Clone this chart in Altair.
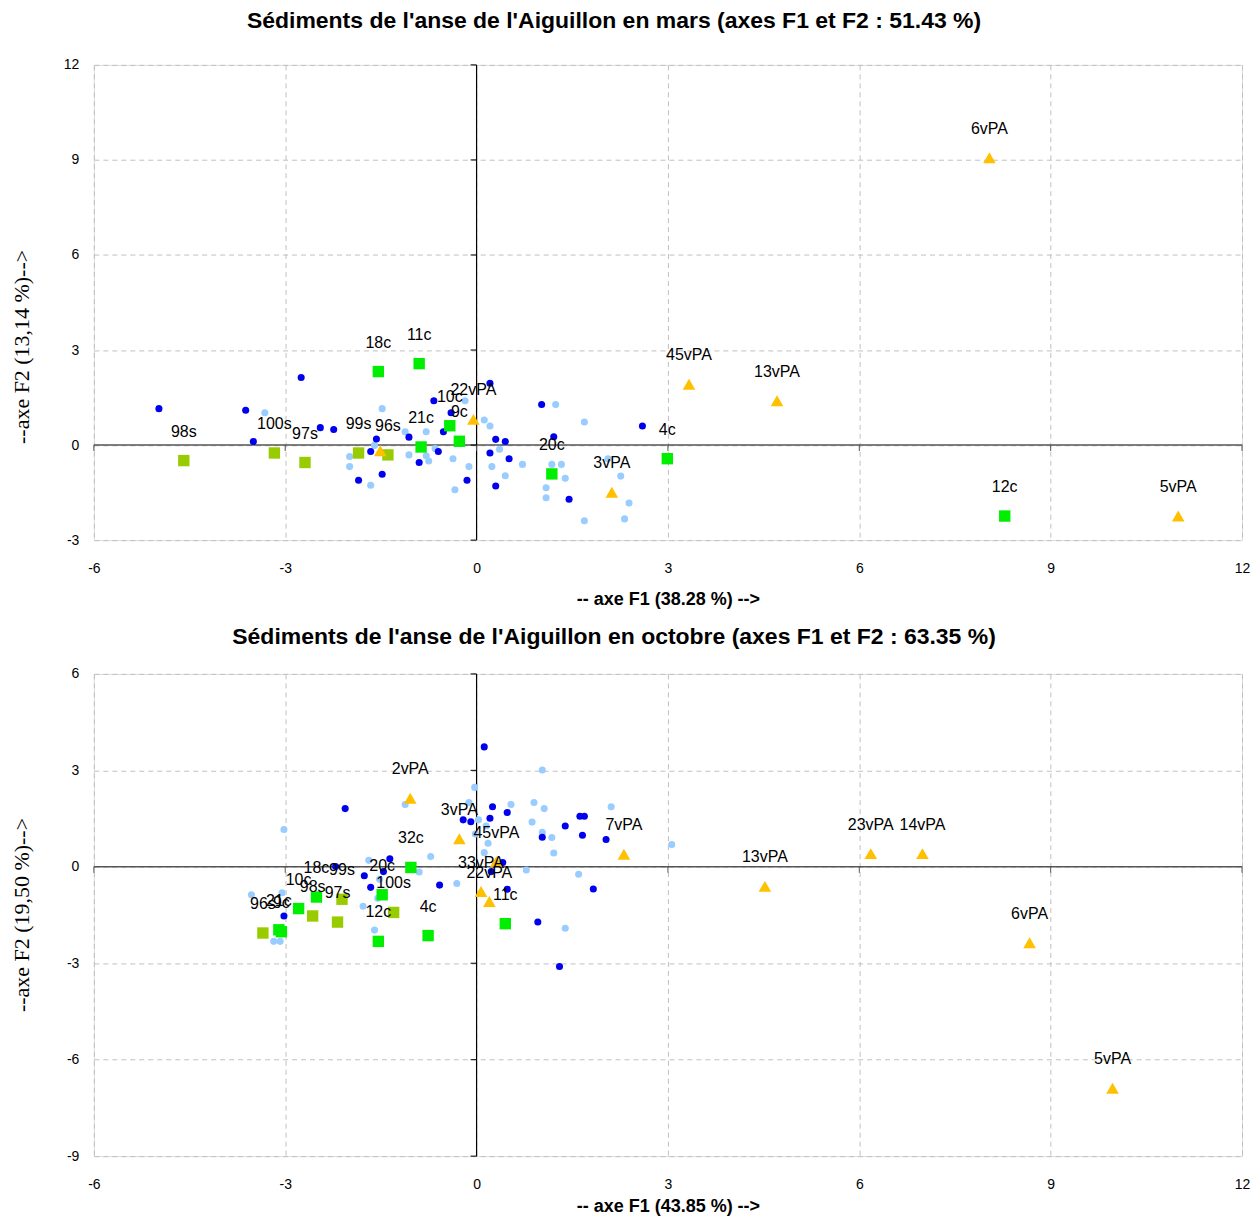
import altair as alt
import pandas as pd

# ---------------- March (top) ----------------
mars_dark_x = [-4.98, -3.62, -2.75, -3.50, -2.45, -2.24, -1.57, -1.66, -1.48, -1.85, -1.06, -0.67, -0.90, -0.60,
               -0.52, -0.40, -0.15, 0.21, 0.30, 0.45, 0.21, 0.51, 0.30, 1.02, 1.21, 1.45, 2.60]
mars_dark_y = [1.15, 1.10, 2.13, 0.11, 0.55, 0.49, 0.19, -0.20, -0.92, -1.11, 0.25, 1.40, -0.55, -0.20,
               0.42, 1.02, -1.11, 1.95, 0.18, 0.11, -0.25, -0.43, -1.29, 1.28, 0.26, -1.71, 0.60]
mars_light_x = [-3.32, -1.48, -1.99, -1.99, -1.66, -1.60, -1.12, -0.79, -1.06, -0.79, -0.75, -0.65, -0.37, -0.34,
                -0.12, -0.18, 0.12, 0.21, 0.36, 0.24, 0.45, 0.72, 1.24, 1.69, 1.18, 1.33, 1.39, 1.09, 1.09,
                1.69, 2.26, 2.39, 2.32, 2.06]
mars_light_y = [1.02, 1.15, -0.36, -0.68, -1.27, -0.01, 0.42, 0.42, -0.31, -0.34, -0.50, -0.11, -0.43, -1.41,
                -0.68, 1.40, 0.79, 0.60, -0.13, -0.68, -0.97, -0.61, 1.28, 0.73, -0.61, -0.61, -1.05, -1.35, -1.66,
                -2.39, -0.98, -1.83, -2.33, -0.43]
mars_c_names = ["18c", "11c", "21c", "10c", "9c", "20c", "4c", "12c"]
mars_c_x = [-1.54, -0.90, -0.87, -0.42, -0.27, 1.18, 2.99, 8.28]
mars_c_y = [2.32, 2.57, -0.06, 0.61, 0.12, -0.91, -0.43, -2.24]
mars_s_names = ["98s", "100s", "97s", "99s", "96s"]
mars_s_x = [-4.59, -3.17, -2.69, -1.85, -1.39]
mars_s_y = [-0.49, -0.25, -0.55, -0.25, -0.31]
mars_v_names = ["22vPA", "45vPA", "13vPA", "3vPA", "6vPA", "5vPA", ""]
mars_v_x = [-0.05, 3.33, 4.71, 2.12, 8.04, 11.0, -1.51]
mars_v_y = [0.81, 1.92, 1.40, -1.49, 9.07, -2.24, -0.18]

# ---------------- October (bottom) ----------------
oct_dark_x = [0.12, -2.06, 0.25, 0.48, -0.21, -0.09, 0.21, -1.36, -1.76, -1.46, -1.66, -2.21, -0.58, -3.02,
              0.48, 0.41, 0.23, 1.39, 1.62, 1.69, 1.03, 1.66, 2.03, 1.83, 0.96, 1.30]
oct_dark_y = [3.73, 1.81, 1.87, 1.69, 1.46, 1.40, 1.51, 0.25, -0.28, -0.15, -0.64, 0.01, -0.57, -1.53,
              -0.70, 0.13, -0.15, 1.27, 1.57, 1.57, 0.92, 0.98, 0.85, -0.69, -1.72, -3.10]
oct_light_x = [-3.02, -3.53, -3.05, -3.18, -3.08, -1.69, -1.52, -1.55, -1.78, -1.60, -1.12, -0.72, -0.90, -0.31,
               -0.03, -0.12, 0.54, 0.03, 1.03, 0.90, 1.06, 2.11, 0.15, 0.87, -0.02, 0.18, 1.03, 1.18, 1.21,
               0.12, 0.78, 1.60, 1.39, 3.06]
oct_light_y = [1.16, -0.87, -0.81, -2.32, -2.32, 0.20, -0.39, -0.98, -1.23, -1.97, 1.94, 0.32, -0.16, -0.52,
               2.47, 2.00, 1.94, 1.46, 3.01, 2.00, 1.81, 1.87, 1.27, 1.39, 1.02, 0.73, 1.07, 0.91, 0.43,
               0.44, -0.10, -0.23, -1.91, 0.69]
oct_c_names = ["32c", "20c", "18c", "10c", "21c", "9c", "12c", "4c", "11c"]
oct_c_x = [-1.03, -1.48, -2.51, -2.79, -3.10, -3.06, -1.54, -0.76, 0.45]
oct_c_y = [-0.02, -0.87, -0.94, -1.30, -1.96, -2.02, -2.32, -2.14, -1.77]
oct_s_names = ["99s", "98s", "97s", "100s", "96s"]
oct_s_x = [-2.11, -2.57, -2.18, -1.30, -3.35]
oct_s_y = [-1.01, -1.53, -1.72, -1.42, -2.06]
oct_v_names = ["2vPA", "3vPA", "45vPA", "33vPA", "22vPA", "7vPA", "13vPA", "23vPA", "14vPA", "6vPA", "5vPA"]
oct_v_x = [-1.04, -0.27, 0.31, 0.07, 0.20, 2.31, 4.52, 6.18, 6.99, 8.67, 9.97]
oct_v_y = [2.13, 0.87, 0.16, -0.77, -1.08, 0.39, -0.61, 0.41, 0.41, -2.36, -6.89]

x_ticks = [-6, -3, 0, 3, 6, 9, 12]
mars_y_ticks = [-3, 0, 3, 6, 9, 12]
oct_y_ticks = [-9, -6, -3, 0, 3, 6]

FONT = "Liberation Sans"
GRID = "#c0c0c0"


def panel(series, labelled, y_ticks, title, xtitle, ytitle, title_offset, ytitle_y, h, xtitle_pad):
    xs = alt.Scale(domain=[x_ticks[0], x_ticks[-1]], nice=False, zero=False)
    ys = alt.Scale(domain=[y_ticks[0], y_ticks[-1]], nice=False, zero=False)
    xaxis = alt.Axis(values=x_ticks, title=xtitle, grid=True, gridDash=[5, 4], gridColor=GRID,
                     domain=False, ticks=False, labelFont=FONT, labelFontSize=14, labelPadding=21,
                     labelColor="black", labelExpr="'' + datum.value", labelFlush=False,
                     titleFont=FONT, titleFontSize=18, titleFontWeight="bold",
                     titlePadding=xtitle_pad, titleColor="black")
    yaxis = alt.Axis(values=y_ticks, title=ytitle, grid=True, gridDash=[5, 4], gridColor=GRID,
                     domain=False, ticks=False, labelFont=FONT, labelFontSize=14, labelPadding=15,
                     labelColor="black", labelExpr="'' + datum.value", labelFlush=False,
                     titleFont="Liberation Serif", titleFontSize=22, titleFontWeight="normal",
                     titleColor="black", titleX=-72, titleY=ytitle_y, titleAngle=-90,
                     titleAlign="center", titleBaseline="middle")

    # grid/axes holder layer (no visible marks)
    holder = alt.Chart(pd.DataFrame({"x": [0], "y": [0]})).mark_point(opacity=0).encode(
        x=alt.X("x:Q", scale=xs, axis=xaxis), y=alt.Y("y:Q", scale=ys, axis=yaxis))

    hline = alt.Chart(pd.DataFrame({"v": [0]})).mark_rule(color="#555555", strokeWidth=1.5).encode(
        y=alt.Y("v:Q", scale=ys))
    vline = alt.Chart(pd.DataFrame({"v": [0]})).mark_rule(color="black", strokeWidth=1.2).encode(
        x=alt.X("v:Q", scale=xs))
    xt = alt.Chart(pd.DataFrame({"v": x_ticks, "z": [0] * len(x_ticks)})).mark_tick(
        orient="vertical", size=6, thickness=1, yOffset=3, color="#555555", opacity=1).encode(
        x=alt.X("v:Q", scale=xs), y=alt.Y("z:Q", scale=ys))
    yt = alt.Chart(pd.DataFrame({"v": y_ticks, "z": [0] * len(y_ticks)})).mark_tick(
        orient="horizontal", size=6, thickness=1, xOffset=-3, color="black", opacity=1).encode(
        y=alt.Y("v:Q", scale=ys), x=alt.X("z:Q", scale=xs))

    layers = [holder, hline, vline, xt, yt]
    for xv, yv, shape, color, size in series:
        df = pd.DataFrame({"x": xv, "y": yv})
        layers.append(alt.Chart(df).mark_point(
            filled=True, opacity=1, strokeWidth=0, shape=shape, color=color, size=size).encode(
            x=alt.X("x:Q", scale=xs), y=alt.Y("y:Q", scale=ys)))
    lab = pd.DataFrame({
        "x": sum([l[1] for l in labelled], []),
        "y": sum([l[2] for l in labelled], []),
        "t": sum([l[0] for l in labelled], []),
    })
    lab = lab[lab["t"] != ""]
    layers.append(alt.Chart(lab).mark_text(font=FONT, fontSize=16, dy=-29, color="black").encode(
        x=alt.X("x:Q", scale=xs), y=alt.Y("y:Q", scale=ys), text="t:N"))

    return alt.layer(*layers).properties(
        width=1150, height=h,
        title=alt.TitleParams(title, font=FONT, fontSize=23, fontWeight="bold", color="black",
                              anchor="middle", dx=-54, offset=title_offset),
    )


DARK, LIGHT, GREEN, OLIVE, GOLD = "#0000EE", "#99CCFF", "#00EE00", "#99CC00", "#FFC000"

top = panel(
    [(mars_light_x, mars_light_y, "circle", LIGHT, 50),
     (mars_dark_x, mars_dark_y, "circle", DARK, 50),
     (mars_c_x, mars_c_y, "square", GREEN, 130),
     (mars_s_x, mars_s_y, "square", OLIVE, 130),
     (mars_v_x, mars_v_y, "triangle-up", GOLD, 160)],
    [(mars_c_names, mars_c_x, mars_c_y), (mars_s_names, mars_s_x, mars_s_y),
     (mars_v_names, mars_v_x, mars_v_y)],
    mars_y_ticks,
    "Sédiments de l'anse de l'Aiguillon en mars  (axes F1 et F2 : 51.43 %)",
    "-- axe F1 (38.28 %) -->", "--axe F2 (13,14 %)-->", 25, 282, 476, 15)

bottom = panel(
    [(oct_light_x, oct_light_y, "circle", LIGHT, 50),
     (oct_dark_x, oct_dark_y, "circle", DARK, 50),
     (oct_c_x, oct_c_y, "square", GREEN, 130),
     (oct_s_x, oct_s_y, "square", OLIVE, 130),
     (oct_v_x, oct_v_y, "triangle-up", GOLD, 160)],
    [(oct_c_names, oct_c_x, oct_c_y), (oct_s_names, oct_s_x, oct_s_y),
     (oct_v_names, oct_v_x, oct_v_y)],
    oct_y_ticks,
    "Sédiments de l'anse de l'Aiguillon en octobre (axes F1 et F2 : 63.35 %)",
    "-- axe F1 (43.85 %) -->", "--axe F2 (19,50 %)-->", 18, 241, 483, 6)

chart = alt.vconcat(top, bottom, spacing=16).properties(
    padding={"left": 2, "top": 0, "right": 0, "bottom": 0}
).configure_view(stroke="#b0b0b0", strokeWidth=1).configure(background="white")

chart.save("out.html", embed_options={"renderer": "svg", "actions": False})
